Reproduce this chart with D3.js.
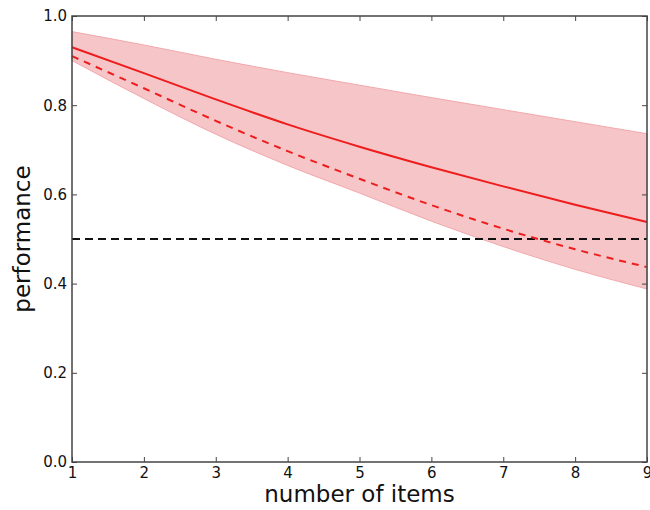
<!DOCTYPE html>
<html>
<head>
<meta charset="utf-8">
<script src="https://cdn.jsdelivr.net/npm/d3@7"></script>
<style>
  body { margin: 0; background: #fff; }
  text { font-family: "DejaVu Sans", sans-serif; fill: #111; }
</style>
</head>
<body>
<svg id="chart" width="650" height="510"></svg>
<script>
// number of items on the x axis
const items = [1, 2, 3, 4, 5, 6, 7, 8, 9];
// solid red line
const perfSolid  = [0.930, 0.872, 0.813, 0.757, 0.707, 0.661, 0.618, 0.577, 0.538];
// dashed red line
const perfDashed = [0.910, 0.838, 0.765, 0.697, 0.635, 0.576, 0.523, 0.477, 0.437];
// shaded band edges
const bandUpper  = [0.965, 0.935, 0.903, 0.873, 0.845, 0.817, 0.790, 0.763, 0.736];
const bandLower  = [0.900, 0.815, 0.735, 0.665, 0.603, 0.540, 0.483, 0.432, 0.388];
const chanceLevel = 0.5;
const yTicks = [0.0, 0.2, 0.4, 0.6, 0.8, 1.0];

const svg = d3.select('#chart');
const margin = {top: 16, right: 3, bottom: 48, left: 72};
const width = 650 - margin.left - margin.right;
const height = 510 - margin.top - margin.bottom;

const g = svg.append('g')
  .attr('transform', `translate(${margin.left},${margin.top})`);

const x = d3.scaleLinear().domain([1, 9]).range([0, width]);
const y = d3.scaleLinear().domain([0, 1]).range([height, 0]);

const rows = items.map((d, i) => ({
  n: d, solid: perfSolid[i], dashed: perfDashed[i], hi: bandUpper[i], lo: bandLower[i]
}));

// shaded band
const area = d3.area()
  .x(d => x(d.n))
  .y0(d => y(d.lo))
  .y1(d => y(d.hi))
  .curve(d3.curveMonotoneX);

g.append('path')
  .datum(rows)
  .attr('d', area)
  .attr('fill', '#f6c5c7')
  .attr('stroke', '#f2a8ac')
  .attr('stroke-width', 1);

// chance line
g.append('line')
  .attr('x1', x(1)).attr('x2', x(9))
  .attr('y1', y(chanceLevel)).attr('y2', y(chanceLevel))
  .attr('stroke', '#111')
  .attr('stroke-width', 2)
  .attr('stroke-dasharray', '8,5');

const lineSolid = d3.line().x(d => x(d.n)).y(d => y(d.solid)).curve(d3.curveMonotoneX);
const lineDashed = d3.line().x(d => x(d.n)).y(d => y(d.dashed)).curve(d3.curveMonotoneX);

g.append('path')
  .datum(rows)
  .attr('d', lineDashed)
  .attr('fill', 'none')
  .attr('stroke', '#ee1c1c')
  .attr('stroke-width', 2)
  .attr('stroke-dasharray', '7,6');

g.append('path')
  .datum(rows)
  .attr('d', lineSolid)
  .attr('fill', 'none')
  .attr('stroke', '#ee1c1c')
  .attr('stroke-width', 2);

// axes, ticks pointing inwards like matplotlib classic
const xAxis = g.append('g')
  .attr('transform', `translate(0,${height})`)
  .call(d3.axisBottom(x).tickValues(items).tickFormat(d3.format('d')).tickSizeInner(-5).tickSizeOuter(0).tickPadding(5));
const yAxis = g.append('g')
  .call(d3.axisLeft(y).tickValues(yTicks).tickFormat(d3.format('.1f')).tickSizeInner(-5).tickSizeOuter(0).tickPadding(5));
const xTop = g.append('g')
  .call(d3.axisTop(x).tickValues(items).tickFormat('').tickSizeInner(-5).tickSizeOuter(0));
const yRight = g.append('g')
  .attr('transform', `translate(${width},0)`)
  .call(d3.axisRight(y).tickValues(yTicks).tickFormat('').tickSizeInner(-5).tickSizeOuter(0));

[xAxis, yAxis, xTop, yRight].forEach(a => {
  a.select('.domain').remove();
  a.selectAll('line').attr('stroke', '#444');
  a.selectAll('text').style('font-size', '15px').attr('fill', '#111');
});

g.append('rect')
  .attr('width', width).attr('height', height)
  .attr('fill', 'none')
  .attr('stroke', '#444')
  .attr('stroke-width', 1.5);

// axis labels
svg.append('text')
  .attr('x', margin.left + width / 2)
  .attr('y', 502)
  .attr('text-anchor', 'middle')
  .style('font-size', '23px')
  .text('number of items');

svg.append('text')
  .attr('transform', `translate(30,${margin.top + height / 2}) rotate(-90)`)
  .attr('text-anchor', 'middle')
  .style('font-size', '23px')
  .text('performance');
</script>
</body>
</html>
